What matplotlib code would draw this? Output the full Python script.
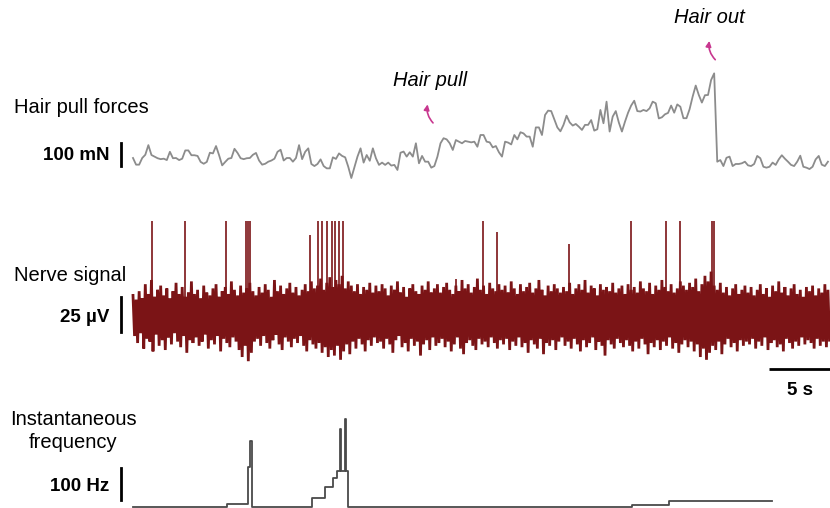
import numpy as np
import matplotlib
matplotlib.use("Agg")
import matplotlib.pyplot as plt

plt.rcParams['font.family'] = ['Liberation Sans', 'DejaVu Sans']

# ---- data (time in s, sampled every 0.25 s) ----
dt = 0.25

# hair pull force, mN relative to resting level
force_rest = [0, -29, -29, 0, 14, 56, 13, 6, -1, -5, -3, -9, 27, -1, 0, -9, -3, 33, 33, 12,
              12, 9, -17, -25, -17, 23, 20, 52, 12, -32, -17, -3, 0, 40, 22, -1, -5, -1, 0, 14,
              22, -11, -29, -25, -16, -11, -3, 27, 36, -11, 0, 0, -16, 0, 56, -5, 27, 42]
force_pull = [-26, -35, -26, -6, -35, -45, -45, 3, -4, 20, 9, 3, -38, -87, -41, 6, 42, -20, 13, -12,
              42, -1, -30, -20, -30, -20, -33, -30, -52, 23, 28, 6, 25, 6, 64, -23, 9, -16, -16, -42,
              -35, 6, 64, 86, 81, 64, 35, 78, 71, 64, 74, 71, 68, 71, 49, 100, 100]
force_ramp = [71, 68, 46, 52, 25, 6, 71, 67, 59, 100, 81, 112, 107, 93, 93, 49, 133, 133, 100, 187,
              206, 204, 168, 133, 116, 144, 184, 155, 141, 148, 136, 122, 144, 144, 165, 119, 125, 209, 151, 245,
              115, 180, 204, 154, 115, 158, 197, 228, 249, 204, 202, 209, 204, 216, 245, 238, 172]
force_release = [177, 190, 196, 228, 197, 233, 223, 173, 173, 212, 267, 315, 274, 241, 273, 274, 339, 368, -16, -9,
                 -35, 1, 6, -35, -26, -26, -23, -16, -32, -35, -26, 9, -1, -38, -42, -38, -20, -30, -6, 12,
                 -3, -16, -30, -35, -16, 10, -38, -42, -48, -38, -6, 9, -29, -35, -16]

# nerve recording, µV: positive and negative excursions every 0.25 s
nerve_up = [14, 11, 17, 12, 22, 15, 25, 13, 18, 21, 14, 19, 12, 17, 23, 15, 20, 13, 16, 24,
            15, 18, 12, 21, 16, 14, 19, 22, 13, 17, 20, 15, 24, 18, 14, 21, 16, 19, 23, 17,
            14, 20, 16, 22, 18, 13, 25, 17, 21, 15, 19, 23, 16, 20, 14, 18, 22, 17, 24, 19,
            21, 26, 18, 23, 27, 20, 25, 22, 28, 19, 24, 21, 17, 22, 15, 20, 18, 23, 16, 21,
            17, 22, 19, 14, 21, 18, 24, 16, 20, 13, 19, 22, 17, 15, 21, 18, 24, 16, 19, 22,
            16, 20, 23, 18, 15, 21, 17, 25, 19, 22, 16, 20, 26, 18, 21, 15, 23, 19, 17, 22,
            18, 21, 16, 24, 19, 15, 22, 17, 20, 23, 16, 19, 25, 18, 14, 21, 17, 22, 19, 16,
            20, 17, 23, 15, 19, 22, 18, 25, 16, 21, 19, 14, 22, 18, 20, 17, 23, 16, 19, 21,
            15, 22, 18, 20, 16, 24, 19, 17, 23, 15, 21, 18, 25, 20, 17, 22, 16, 19, 24, 21,
            18, 23, 20, 26, 17, 22, 28, 24, 31, 21, 18, 23, 16, 20, 14, 19, 22, 15, 18, 21,
            16, 20, 14, 18, 22, 15, 19, 13, 21, 17, 24, 16, 20, 14, 19, 22, 15, 18, 13, 20,
            17, 21, 14, 19, 16, 22, 18]
nerve_down = [-15, -20, -13, -24, -17, -19, -26, -14, -22, -18, -25, -16, -21, -13, -19, -23, -15, -27, -18, -20,
              -16, -22, -19, -14, -24, -18, -21, -15, -26, -17, -20, -23, -16, -19, -25, -30, -22, -33, -27, -19,
              -17, -22, -15, -20, -24, -18, -14, -21, -25, -16, -19, -23, -17, -20, -15, -22, -26, -18, -21, -24,
              -20, -27, -23, -30, -25, -29, -22, -32, -26, -21, -28, -19, -24, -17, -21, -26, -18, -22, -16, -20,
              -19, -24, -17, -21, -27, -18, -15, -23, -20, -26, -17, -22, -19, -29, -21, -18, -25, -16, -22, -20,
              -17, -23, -19, -26, -21, -16, -24, -28, -20, -18, -22, -25, -17, -21, -19, -23, -16, -20, -24, -18,
              -21, -17, -25, -19, -22, -16, -23, -20, -27, -18, -21, -24, -17, -28, -20, -22, -18, -25, -19, -16,
              -22, -19, -24, -17, -21, -26, -18, -23, -20, -16, -25, -19, -22, -29, -18, -21, -24, -17, -20, -23,
              -18, -22, -26, -19, -24, -17, -21, -28, -20, -23, -18, -25, -19, -22, -16, -24, -20, -27, -21, -18,
              -23, -19, -26, -21, -30, -24, -32, -27, -22, -25, -19, -28, -21, -17, -23, -20, -26, -18, -22, -19,
              -21, -17, -24, -19, -22, -16, -25, -20, -18, -23, -21, -26, -17, -20, -24, -19, -22, -16, -21, -18,
              -20, -24, -17, -22, -19, -23, -18]

# action potentials
spike_t = [1.54, 4.23, 7.56, 9.15, 9.35, 9.55, 14.39, 15.04, 15.37, 15.77, 16.18, 16.46, 16.71, 17.07,
           26.26, 28.46, 29.59, 35.45, 40.49, 43.33, 44.47, 47.07, 47.20]
spike_uv = [67, 67, 67, 67, 67, 67, 57, 67, 67, 67, 67, 67, 67, 67,
            26, 67, 59, 51, 67, 67, 67, 67, 67]

# instantaneous frequency (step edges in s, Hz held until next edge)
freq_t = [0, 7.64, 9.35, 9.54, 9.66, 14.55, 15.61, 16.26, 16.59, 16.83, 16.90, 17.24, 17.32, 17.45,
          40.57, 43.58, 51.95]
freq_hz = [0, 8, 125, 206, 0, 26, 62, 89, 112, 242, 112, 274, 112, 0, 4, 18, 18]

hair_pull_t, hair_out_t = 24.0, 46.9

# ---- layout ----
W, H = 830, 508
px_s = 12.3          # pixels per second
x0 = 133             # pixel column of t = 0

fig = plt.figure(figsize=(8.3, 5.08), dpi=100)


def panel(top, bottom, base, px_unit):
    ax = fig.add_axes([0, 1 - bottom / H, 1, (bottom - top) / H])
    ax.set_xlim(-x0 / px_s, (W - x0) / px_s)
    ax.set_ylim(-(bottom - base) / px_unit, (base - top) / px_unit)
    ax.axis('off')
    return ax


bar_x = -12 / px_s
lab_x = -24 / px_s
left_x = -119 / px_s

# force
ax1 = panel(0, 195, 158, 0.23)
force = np.array(force_rest + force_pull + force_ramp + force_release)
t_force = np.arange(len(force)) * dt
ax1.plot(t_force, force, color='#8c8c8c', lw=1.3)
ax1.plot([bar_x, bar_x], [-35, 65], color='black', lw=2)
ax1.text(lab_x, 13, '100 mN', ha='right', va='center', fontsize=13.5, fontweight='bold')
ax1.text(left_x, 220, 'Hair pull forces', ha='left', va='center', fontsize=14.5)
arrow = dict(arrowstyle='-|>', color='#c8378f', lw=1.2, mutation_scale=8,
             connectionstyle='arc3,rad=-0.3')
ax1.annotate('', xy=(hair_pull_t, 245), xytext=(hair_pull_t + 0.55, 144), arrowprops=arrow)
ax1.text(hair_pull_t + 0.15, 339, 'Hair pull', ha='center', va='center', fontsize=14.5, style='italic')
ax1.annotate('', xy=(hair_out_t, 521), xytext=(hair_out_t + 0.6, 419), arrowprops=arrow)
ax1.text(hair_out_t, 613, 'Hair out', ha='center', va='center', fontsize=14.5, style='italic')

# nerve
ax2 = panel(195, 400, 315, 1.4)
up = np.array(nerve_up)
down = np.array(nerve_down)
t_n = np.arange(len(up)) * dt
tz = np.column_stack([t_n, t_n + dt / 2]).ravel()
vz = np.column_stack([up, down]).ravel()
red = '#7b1416'
ax2.plot(tz, vz, color=red, lw=2.0, solid_joinstyle='miter')
ax2.vlines(spike_t, -8, spike_uv, color=red, lw=1.2)
ax2.plot([bar_x, bar_x], [-12, 13], color='black', lw=2)
ax2.text(lab_x, -2, '25 µV', ha='right', va='center', fontsize=13.5, fontweight='bold')
ax2.text(left_x, 28, 'Nerve signal', ha='left', va='center', fontsize=14.5)
ax2.plot([51.7, 56.7], [-38.6, -38.6], color='black', lw=2, solid_capstyle='butt')
ax2.text(54.2, -53.6, '5 s', ha='center', va='center', fontsize=13.5, fontweight='bold')

# instantaneous frequency
ax3 = panel(400, 508, 506.7, 0.32)
ax3.plot(freq_t, freq_hz, drawstyle='steps-post', color='#4a4a4a', lw=1.3)
ax3.plot([bar_x, bar_x], [21, 121], color='black', lw=2)
ax3.text(lab_x, 62, '100 Hz', ha='right', va='center', fontsize=13.5, fontweight='bold')
ax3.text(-60 / px_s, 236, 'Instantaneous\nfrequency', ha='center', va='center', fontsize=14.5,
         linespacing=1.3)

fig.savefig('out.png', dpi=100)
